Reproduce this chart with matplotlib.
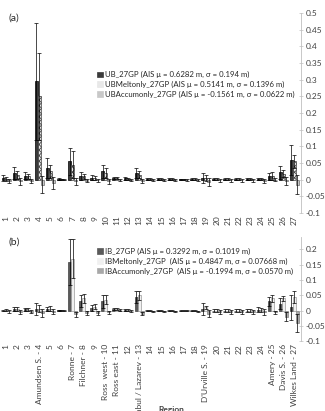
import numpy as np
import matplotlib.pyplot as plt
from matplotlib.patches import Patch

plt.rcParams['font.family'] = ['Lato', 'DejaVu Sans']
plt.rcParams['hatch.linewidth'] = 0.6

regions = np.arange(1, 28)
names = ['1', '2', '3', 'Amundsen S. - 4', '5', '6', 'Ronne - 7', 'Filchner - 8', '9',
         'Ross  west - 10', 'Ross east - 11', '12', 'Fimbul / Lazarev - 13', '14', '15',
         '16', '17', '18', "D'Urville S. - 19", '20', '21', '22', '23', '24',
         'Amery - 25', 'Davis S. - 26', 'Wilkes Land - 27']

# panel (a)
ub = [0.005, 0.02, 0.012, 0.295, 0.035, 0.002, 0.055, 0.012, 0.006, 0.025, 0.005, 0.004, 0.02,
      0.002, 0.002, 0.002, 0.001, 0.002, 0.005, 0.002, 0.002, 0.002, 0.002, 0.002, 0.01, 0.022, 0.06]
ub_err = [0.008, 0.018, 0.01, 0.175, 0.03, 0.002, 0.04, 0.012, 0.008, 0.02, 0.004, 0.004, 0.015,
          0.003, 0.003, 0.003, 0.002, 0.003, 0.015, 0.004, 0.004, 0.004, 0.004, 0.004, 0.01, 0.02, 0.045]
ubmelt = [0.003, 0.015, 0.01, 0.25, 0.025, 0.001, 0.045, 0.01, 0.005, 0.02, 0.004, 0.003, 0.015,
          0.002, 0.002, 0.002, 0.001, 0.002, 0.005, 0.002, 0.002, 0.002, 0.002, 0.002, 0.012, 0.018, 0.055]
ubmelt_err = [0.006, 0.012, 0.008, 0.13, 0.02, 0.002, 0.04, 0.008, 0.005, 0.015, 0.003, 0.003, 0.01,
              0.003, 0.003, 0.003, 0.002, 0.003, 0.008, 0.004, 0.004, 0.004, 0.004, 0.004, 0.012, 0.01, 0.02]
ubacc = [-0.003, -0.005, -0.003, -0.015, -0.01, 0.0, -0.005, -0.003, -0.002, -0.005, 0.0, 0.0, -0.003,
         -0.002, -0.002, -0.002, -0.001, -0.002, -0.008, -0.002, -0.002, -0.002, -0.002, -0.003, 0.0, -0.005, -0.015]
ubacc_err = [0.006, 0.01, 0.006, 0.025, 0.018, 0.002, 0.01, 0.005, 0.005, 0.008, 0.003, 0.003, 0.006,
             0.003, 0.003, 0.003, 0.002, 0.003, 0.012, 0.004, 0.004, 0.004, 0.004, 0.006, 0.004, 0.012, 0.028]

# panel (b)
ib = [0.0, 0.005, 0.004, 0.004, 0.005, 0.001, 0.16, 0.03, 0.008, 0.03, 0.005, 0.003, 0.045,
      0.0, 0.0, 0.0, 0.0, 0.0, 0.004, 0.0, 0.0, 0.0, 0.0, 0.003, 0.03, 0.022, 0.01]
ib_err = [0.003, 0.007, 0.005, 0.02, 0.008, 0.002, 0.075, 0.02, 0.01, 0.022, 0.004, 0.003, 0.02,
          0.003, 0.003, 0.003, 0.002, 0.003, 0.02, 0.004, 0.004, 0.004, 0.004, 0.008, 0.015, 0.018, 0.04]
ibmelt = [0.001, 0.004, 0.003, 0.006, 0.006, 0.001, 0.17, 0.04, 0.012, 0.035, 0.005, 0.002, 0.05,
          0.0, 0.0, 0.0, 0.0, 0.0, 0.01, 0.0, 0.0, 0.0, 0.0, 0.002, 0.04, 0.04, 0.045]
ibmelt_err = [0.003, 0.006, 0.005, 0.012, 0.008, 0.002, 0.065, 0.015, 0.008, 0.015, 0.004, 0.003, 0.015,
              0.003, 0.003, 0.003, 0.002, 0.003, 0.006, 0.004, 0.004, 0.004, 0.004, 0.006, 0.012, 0.008, 0.02]
ibacc = [-0.003, -0.004, -0.004, -0.008, -0.004, 0.0, -0.012, -0.008, -0.008, -0.005, 0.002, -0.002, -0.01,
         -0.003, -0.003, -0.003, -0.001, -0.003, -0.01, -0.005, -0.005, -0.005, -0.005, -0.006, -0.005, -0.02, -0.04]
ibacc_err = [0.004, 0.006, 0.005, 0.014, 0.008, 0.002, 0.008, 0.005, 0.006, 0.005, 0.003, 0.003, 0.005,
             0.003, 0.003, 0.003, 0.002, 0.003, 0.012, 0.006, 0.006, 0.006, 0.006, 0.01, 0.005, 0.015, 0.03]

labels_a = ['UB_27GP (AIS \u03bc = 0.6282 m, \u03c3 = 0.194 m)',
            'UBMeltonly_27GP (AIS \u03bc = 0.5141 m, \u03c3 = 0.1396 m)',
            'UBAccumonly_27GP (AIS \u03bc = -0.1561 m, \u03c3 = 0.0622 m)']
labels_b = ['IB_27GP (AIS \u03bc = 0.3292 m, \u03c3 = 0.1019 m)',
            'IBMeltonly_27GP  (AIS \u03bc = 0.4847 m, \u03c3 = 0.07668 m)',
            'IBAccumonly_27GP  (AIS \u03bc = -0.1994 m, \u03c3 = 0.0570 m)']

fig = plt.figure(figsize=(3.25, 4.11), dpi=100)
ax1 = fig.add_axes([0.0015, 0.482, 0.925, 0.486])
ax2 = fig.add_axes([0.0015, 0.170, 0.925, 0.253])

x = np.arange(len(regions))
w = 0.27
ekw = dict(elinewidth=0.5, capsize=1.2, capthick=0.5, ecolor='black')

styles_a = [dict(color='#3a3a3a', edgecolor='black'),
            dict(color='#e8e8e8', edgecolor='#404040', hatch='xxxxxx'),
            dict(color='#c8c8c8', edgecolor='#707070')]
styles_b = [dict(color='#5a5a5a', edgecolor='#404040'),
            dict(color='#f0f0f0', edgecolor='#9a9a9a'),
            dict(color='#a8a8a8', edgecolor='#808080')]

for i, (v, e) in enumerate([(ub, ub_err), (ubmelt, ubmelt_err), (ubacc, ubacc_err)]):
    ax1.bar(x + (i - 1) * w, v, w, yerr=e, error_kw=ekw, linewidth=0.5, **styles_a[i])
for i, (v, e) in enumerate([(ib, ib_err), (ibmelt, ibmelt_err), (ibacc, ibacc_err)]):
    ax2.bar(x + (i - 1) * w, v, w, yerr=e, error_kw=ekw, linewidth=0.5, **styles_b[i])

for ax in (ax1, ax2):
    ax.set_xlim(-0.5, 26.6)
    ax.yaxis.tick_right()
    for s in ['left', 'top', 'bottom']:
        ax.spines[s].set_visible(False)
    ax.spines['right'].set_color('#bfbfbf')
    ax.spines['right'].set_linewidth(0.6)
    ax.tick_params(axis='y', direction='inout', length=3, width=0.5, color='#bfbfbf',
                   labelsize=6, labelcolor='#404040', pad=1.5)
    ax.tick_params(axis='x', length=0, labelsize=6, labelcolor='#404040', pad=2)
    ax.set_xticks(x)

ax1.set_ylim(-0.1, 0.5)
ax1.set_yticks(np.arange(-0.1, 0.51, 0.05))
ax1.set_yticklabels(['-0.1', '-0.05', '0', '0.05', '0.1', '0.15', '0.2', '0.25', '0.3',
                     '0.35', '0.4', '0.45', '0.5'])
ax1.set_xticklabels([str(r) for r in regions], rotation=90)

ax2.set_ylim(-0.1, 0.24)
ax2.set_yticks(np.arange(-0.1, 0.21, 0.05))
ax2.set_yticklabels(['-0.1', '-0.05', '0', '0.05', '0.1', '0.15', '0.2'])
ax2.set_xticklabels(names, rotation=90)

h_a = [Patch(linewidth=0.5, **s) for s in styles_a]
h_b = [Patch(linewidth=0.5, **s) for s in styles_b]
fig.legend(h_a, labels_a, loc='upper left', bbox_to_anchor=(0.29, 0.835), frameon=False,
           fontsize=5.6, handlelength=0.7, handleheight=0.7, handletextpad=0.3,
           labelspacing=0.35, borderaxespad=0, labelcolor='#262626')
fig.legend(h_b, labels_b, loc='upper left', bbox_to_anchor=(0.29, 0.405), frameon=False,
           fontsize=5.6, handlelength=0.7, handleheight=0.7, handletextpad=0.3,
           labelspacing=0.35, borderaxespad=0, labelcolor='#262626')

fig.text(0.025, 0.95, '(a)', fontsize=7.5, color='#262626')
fig.text(0.025, 0.405, '(b)', fontsize=7.5, color='#262626')
fig.text(0.527, 0.003, 'Region', fontsize=6, fontweight='bold', color='#404040',
         ha='center', va='center')

plt.savefig('out.png', dpi=100)
